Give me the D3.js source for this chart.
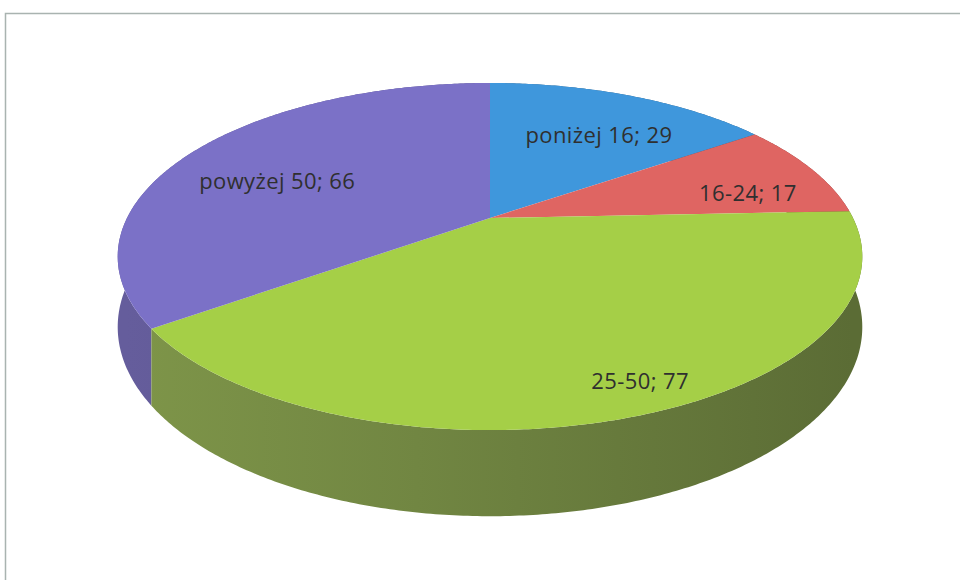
<!DOCTYPE html>
<html>
<head>
<meta charset="utf-8">
<script src="https://cdn.jsdelivr.net/npm/d3@7"></script>
<style>
  body { margin: 0; background: #fff; }
  svg { display: block; }
  .lbl { font-family: "Open Sans", sans-serif; font-size: 22px; letter-spacing: 0.4px; fill: #2f2f2f; }
</style>
</head>
<body>
<script>
// data
var categories = ["poniżej 16", "16-24", "25-50", "powyżej 50"];
var values = [29, 17, 77, 66];
var colors = ["#3f97dc", "#df6562", "#a5cf47", "#7b71c7"];

// label placement (fraction of radius, angle nudge in degrees)
var labelR = [0.66, 0.75, 0.88, 0.66];
var labelShift = [3.2, 6.9, -3.6, -6.3];

var width = 960, height = 580;
var cx = 490, cy = 218, R = 363, A = 165, persp = 0.222, thick = 67;

var svg = d3.select("body").append("svg")
    .attr("width", width)
    .attr("height", height);

svg.append("rect")
    .attr("x", 5.5).attr("y", 13.5)
    .attr("width", 1000).attr("height", 700)
    .attr("fill", "none")
    .attr("stroke", "#a9b3b0")
    .attr("stroke-width", 1.5);

// angle in radians clockwise from 12 o'clock, r in 0..1, z = depth down
function proj(a, r, z) {
  var u = r * Math.sin(a), v = -r * Math.cos(a);
  var d = 1 - persp * v;
  return [cx + R * u / d, cy + (A * v + z * thick) / d];
}

var pie = d3.pie().sort(null).value(function(d) { return d; });
var arcs = pie(values);

var line = d3.line();

function arcPoints(a0, a1, z) {
  var n = Math.max(2, Math.ceil(Math.abs(a1 - a0) / 0.01));
  var pts = [];
  for (var i = 0; i <= n; i++) pts.push(proj(a0 + (a1 - a0) * i / n, 1, z));
  return pts;
}

function shade(c, k) {
  var h = d3.hsl(c);
  h.s = h.s * 0.58;
  h.l = h.l * k;
  return h + "";
}

var defs = svg.append("defs");
arcs.forEach(function(d, i) {
  var g = defs.append("linearGradient")
      .attr("id", "wall" + i)
      .attr("gradientUnits", "userSpaceOnUse")
      .attr("x1", cx - R).attr("x2", cx + R)
      .attr("y1", 0).attr("y2", 0);
  g.append("stop").attr("offset", "0%").attr("stop-color", shade(colors[i], 0.8));
  g.append("stop").attr("offset", "40%").attr("stop-color", shade(colors[i], 0.72));
  g.append("stop").attr("offset", "100%").attr("stop-color", shade(colors[i], 0.58));
});

// walls, back ones first
var order = arcs.map(function(d, i) { return i; }).sort(function(a, b) {
  var ma = (arcs[a].startAngle + arcs[a].endAngle) / 2;
  var mb = (arcs[b].startAngle + arcs[b].endAngle) / 2;
  return -Math.cos(ma) - -Math.cos(mb);
});

svg.append("g").selectAll("path")
    .data(order)
    .enter().append("path")
    .attr("d", function(i) {
      var d = arcs[i];
      var top = arcPoints(d.startAngle, d.endAngle, 0);
      var bot = arcPoints(d.endAngle, d.startAngle, 1);
      return line(top.concat(bot)) + "Z";
    })
    .attr("fill", function(i) { return "url(#wall" + i + ")"; });

// top faces
svg.append("g").selectAll("path")
    .data(arcs)
    .enter().append("path")
    .attr("d", function(d) {
      return line([proj(0, 0, 0)].concat(arcPoints(d.startAngle, d.endAngle, 0))) + "Z";
    })
    .attr("fill", function(d, i) { return colors[i]; });

// labels
svg.append("g").selectAll("text")
    .data(arcs)
    .enter().append("text")
    .attr("class", "lbl")
    .attr("text-anchor", "middle")
    .attr("dy", "0.35em")
    .attr("transform", function(d, i) {
      var a = (d.startAngle + d.endAngle) / 2 + labelShift[i] * Math.PI / 180;
      var p = proj(a, labelR[i], 0);
      return "translate(" + p[0] + "," + p[1] + ")";
    })
    .text(function(d, i) { return categories[i] + "; " + values[i]; });
</script>
</body>
</html>
